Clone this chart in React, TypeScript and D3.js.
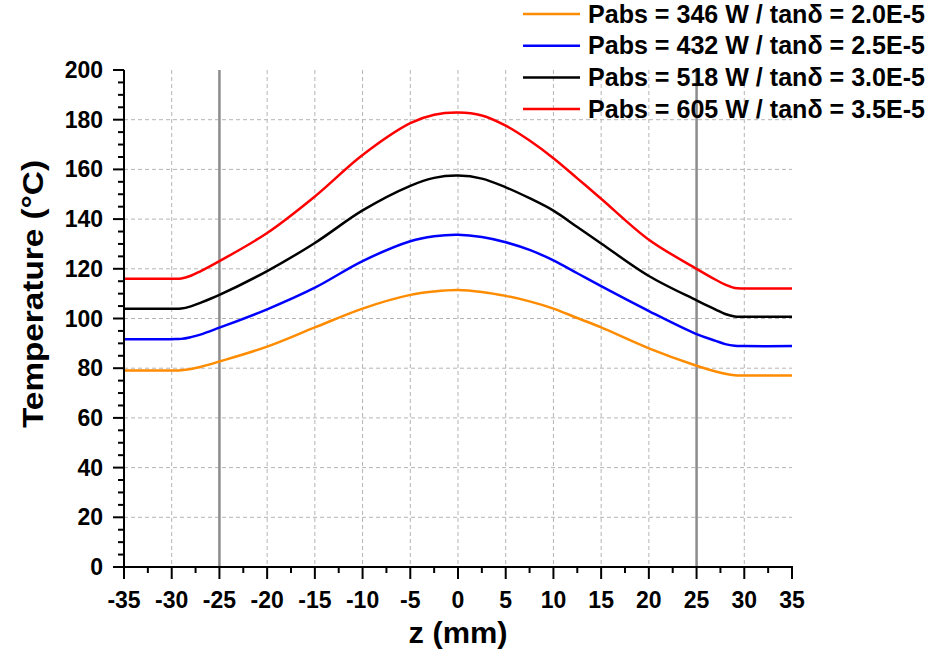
import React from "react";
import * as d3 from "d3";

const zValues = [-35, -30, -29, -28, -27, -25, -20, -15, -10, -5, -2.5, 0, 2.5, 5, 7.5, 10, 12.5, 15, 20, 25, 27, 28, 29, 30, 35];
const orangeSeries = [79.1, 79.1, 79.2, 79.7, 80.5, 82.7, 88.7, 96.4, 104.0, 109.5, 110.9, 111.5, 110.7, 109.1, 106.9, 104.0, 100.2, 96.4, 88.0, 81.0, 78.7, 77.8, 77.2, 77.1, 77.1];
const blueSeries = [91.7, 91.7, 91.8, 92.5, 93.5, 96.3, 103.7, 112.4, 123.1, 131.1, 133.1, 133.7, 132.8, 130.7, 127.6, 123.4, 118.2, 113.0, 103.0, 93.7, 91.0, 89.7, 89.0, 88.9, 88.9];
const blackSeries = [103.9, 103.9, 104.0, 104.9, 106.3, 109.5, 119.1, 130.4, 143.5, 153.4, 156.6, 157.5, 156.3, 152.8, 148.4, 143.4, 136.8, 130.2, 117.1, 107.3, 103.6, 101.8, 100.8, 100.7, 100.7];
const redSeries = [116.0, 116.0, 116.1, 117.2, 119.0, 123.1, 134.4, 149.1, 165.8, 178.6, 182.0, 182.9, 181.7, 177.6, 171.6, 164.5, 156.4, 148.2, 131.7, 120.0, 115.6, 113.6, 112.3, 112.1, 112.1];

const seriesLabels = [
  "Pabs = 346 W / tanδ = 2.0E-5",
  "Pabs = 432 W / tanδ = 2.5E-5",
  "Pabs = 518 W / tanδ = 3.0E-5",
  "Pabs = 605 W / tanδ = 3.5E-5",
];
const seriesColors = ["#ff8c00", "#0000ff", "#000000", "#ff0000"];
const seriesValues = [orangeSeries, blueSeries, blackSeries, redSeries];

const xMajorTicks = [-35, -30, -25, -20, -15, -10, -5, 0, 5, 10, 15, 20, 25, 30, 35];
const yMajorTicks = [0, 20, 40, 60, 80, 100, 120, 140, 160, 180, 200];
const markerLines = [-25, 25];

const FONT = "'Liberation Sans', Arial, sans-serif";

export default function App() {
  const W = 931, H = 650;
  const left = 124, right = 792, top = 70, bottom = 567;
  const x = d3.scaleLinear().domain([-35, 35]).range([left, right]);
  const y = d3.scaleLinear().domain([0, 200]).range([bottom, top]);

  const line = d3
    .line<number>()
    .x((_, i) => x(zValues[i]))
    .y((d) => y(d))
    .curve(d3.curveCatmullRom.alpha(0.5));

  const xMinor = d3.range(-35, 35.01, 2.5).filter((v) => !xMajorTicks.includes(v));
  const yMinor = d3.range(0, 200.01, 5).filter((v) => !yMajorTicks.includes(v));

  return (
    <svg width={W} height={H} style={{ position: "absolute", left: 0, top: 0, background: "#fff" }} fontFamily={FONT}>
      {/* grid */}
      <g stroke="#b4b4b4" strokeWidth={1} strokeDasharray="4,3" fill="none">
        {xMajorTicks.filter((v) => v > -35 && v < 35).map((v) => (
          <line key={"gx" + v} x1={x(v)} x2={x(v)} y1={y(200)} y2={y(0)} />
        ))}
        {yMajorTicks.filter((v) => v > 0 && v < 200).map((v) => (
          <line key={"gy" + v} x1={x(-35)} x2={x(35)} y1={y(v)} y2={y(v)} />
        ))}
      </g>
      {/* marker lines */}
      {markerLines.map((v) => (
        <line key={"m" + v} x1={x(v)} x2={x(v)} y1={y(200)} y2={y(0)} stroke="#8c8c8c" strokeWidth={2.5} />
      ))}
      {/* series */}
      {seriesValues.map((vals, i) => (
        <path key={"s" + i} d={line(vals) || ""} fill="none" stroke={seriesColors[i]} strokeWidth={2.5} />
      ))}
      {/* axes */}
      <g stroke="#000" strokeWidth={2}>
        <line x1={left} x2={left} y1={top} y2={bottom + 1} />
        <line x1={left - 1} x2={right + 1} y1={bottom} y2={bottom} />
        {xMajorTicks.map((v) => (
          <line key={"xt" + v} x1={x(v)} x2={x(v)} y1={bottom} y2={bottom + 12} />
        ))}
        {xMinor.map((v) => (
          <line key={"xm" + v} x1={x(v)} x2={x(v)} y1={bottom} y2={bottom + 6} />
        ))}
        {yMajorTicks.map((v) => (
          <line key={"yt" + v} x1={left - 11} x2={left} y1={y(v)} y2={y(v)} />
        ))}
        {yMinor.map((v) => (
          <line key={"ym" + v} x1={left - 6} x2={left} y1={y(v)} y2={y(v)} />
        ))}
      </g>
      {/* tick labels */}
      <g fontSize={23} fontWeight="bold" fill="#000">
        {xMajorTicks.map((v) => (
          <text key={"xl" + v} x={x(v)} y={608} textAnchor="middle">
            {v}
          </text>
        ))}
        {yMajorTicks.map((v) => (
          <text key={"yl" + v} x={103} y={y(v) + 8} textAnchor="end">
            {v}
          </text>
        ))}
      </g>
      {/* axis titles */}
      <text x={458} y={643} textAnchor="middle" fontSize={29} fontWeight="bold" textLength={99} lengthAdjust="spacingAndGlyphs">
        z (mm)
      </text>
      <text
        transform="translate(43,294) rotate(-90)"
        textAnchor="middle"
        fontSize={29}
        fontWeight="bold"
        textLength={268}
        lengthAdjust="spacingAndGlyphs"
      >
        Temperature (°C)
      </text>
      {/* legend */}
      {seriesLabels.map((lab, i) => {
        const ly = 14 + i * 31.7;
        return (
          <g key={"lg" + i}>
            <line x1={523} x2={580} y1={ly} y2={ly} stroke={seriesColors[i]} strokeWidth={2.5} />
            <text x={588} y={ly + 8.5} fontSize={25} fontWeight="bold" textLength={337} lengthAdjust="spacingAndGlyphs">
              {lab}
            </text>
          </g>
        );
      })}
    </svg>
  );
}
